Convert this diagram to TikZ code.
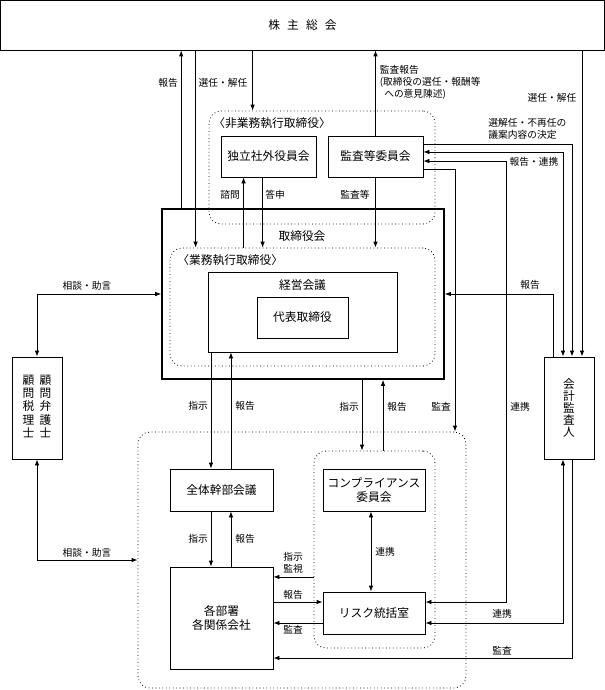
\documentclass[tikz,border=0pt]{standalone}
\usepackage{fontspec}
\setmainfont{Noto Sans CJK JP}
\usetikzlibrary{arrows.meta}

\begin{document}
\begin{tikzpicture}[x=0.75pt, y=-0.75pt, line width=0.6pt,
        >={Latex[length=4.5pt,width=3.4pt]},
        box/.style={draw, inner sep=0pt, align=center, font=\fontsize{8.8}{10.5}\selectfont},
        tate/.style={box, font=\fontsize{8.8}{9.1}\selectfont},
        grp/.style={draw, dotted, rounded corners=9pt, inner sep=0pt},
        title/.style={inner sep=0pt, font=\fontsize{8.8}{10.5}\selectfont},
        lbl/.style={inner sep=0pt, align=center, font=\fontsize{7.3}{9.2}\selectfont}]
        \useasboundingbox (0,0) rectangle (605,690);
        % Shareholders
        \node[box, minimum width=453pt, minimum height=37.1pt] (soukai) at (302.5,25.25) {株\hspace{0.6em}主\hspace{0.6em}総\hspace{0.6em}会};
        % Non-executive directors
        \node[grp, minimum width=169.5pt, minimum height=84.75pt] (hibox) at (322,167.5) {};
        \node[title, anchor=west] (hititle) at (213,123) {〈非業務執行取締役〉};
        \node[box, minimum width=71.25pt, minimum height=30.75pt] (dokuritsu) at (268.5,156.5) {独立社外役員会};
        \node[box, minimum width=71.25pt, minimum height=30.75pt] (kansa) at (375.5,156.5) {監査等委員会};
        % Board and executive directors
        \node[draw, line width=1.2pt, minimum width=211.5pt, minimum height=127.5pt] (board) at (303,294) {};
        \node[title] (boardtitle) at (302,236) {取締役会};
        \node[grp, minimum width=198.75pt, minimum height=88.5pt] (gyomu) at (302.5,307) {};
        \node[title, anchor=west] (gyomutitle) at (177,260) {〈業務執行取締役〉};
        \node[box, minimum width=141.75pt, minimum height=60pt] (keiei) at (302.5,312) {};
        \node[title] (keieititle) at (302.5,285) {経営会議};
        \node[box, minimum width=68.25pt, minimum height=30.75pt] (daihyo) at (302.5,317.5) {代表取締役};
        % Advisers and auditor
        \node[tate, minimum width=37.5pt, minimum height=76.5pt] (komon) at (37,408)
            {\begin{tabular}{@{}c@{\hspace{4pt}}c@{}}顧&顧\\問&問\\税&弁\\理&護\\士&士\end{tabular}};
        \node[tate, minimum width=37.5pt, minimum height=76.5pt] (audit) at (569,408) {会\\計\\監\\査\\人};
        % Lower group
        \node[grp, minimum width=246pt, minimum height=192pt] (group) at (302,560) {};
        \node[grp, minimum width=90.75pt, minimum height=147.75pt] (comp) at (374.5,549.5) {};
        \node[box, minimum width=77.25pt, minimum height=31.5pt] (zentai) at (221.5,490) {全体幹部会議};
        \node[box, minimum width=77.25pt, minimum height=76.5pt] (kakubu) at (221.5,618) {各部署\\各関係会社};
        \node[box, minimum width=76.5pt, minimum height=31.5pt] (compliance) at (374,490) {コンプライアンス\\委員会};
        \node[box, minimum width=76.5pt, minimum height=31.5pt] (risk) at (374,613) {リスク統括室};
        % Edges to the shareholders
        \draw[->] ([xshift=15pt]board.north west) -- ([xshift=15pt]board.north west |- soukai.south);
        \draw[->] ([xshift=19.5pt]gyomu.north west |- soukai.south) -- ([xshift=19.5pt]gyomu.north west);
        \draw[->] ([xshift=33pt]hibox.north west |- soukai.south) -- ([xshift=33pt]hibox.north west);
        \draw[->] (kansa.north) -- (kansa.north |- soukai.south);
        \draw[->] ([xshift=9.75pt]audit.north |- soukai.south) -- ([xshift=9.75pt]audit.north);
        % Edges of the non-executive directors
        \draw[->] (kansa.south) -- (kansa.south |- gyomu.north);
        \draw[->] ([xshift=17.25pt]dokuritsu.south west |- gyomu.north) -- ([xshift=17.25pt]dokuritsu.south west);
        \draw[->] ([xshift=31.5pt]dokuritsu.south west) -- ([xshift=31.5pt]dokuritsu.south west |- gyomu.north);
        \draw[->] ([yshift=9.4pt]kansa.east) -| ([xshift=2.25pt]audit.north);
        \draw[<->] ([yshift=3.4pt]kansa.east) -| ([xshift=-4.5pt]audit.north);
        \draw[<->] ([yshift=-3.4pt]kansa.east) -| ([xshift=60.75pt,yshift=8.25pt]risk.east) -- ([yshift=8.25pt]risk.east);
        \draw[->] ([yshift=-9.4pt]kansa.east) -| ([xshift=114.75pt]group.north);
        % Edges of the board
        \draw[->] ([xshift=-12pt]audit.north) |- (board.east);
        \draw[<->] (komon.north) |- (board.west);
        \draw[<->] (komon.south) |- (group.west);
        \draw[->] ([xshift=-7.9pt]zentai.north |- keiei.south) -- ([xshift=-7.9pt]zentai.north);
        \draw[->] ([xshift=7.1pt]zentai.north) -- ([xshift=7.1pt]zentai.north |- keiei.south);
        \draw[->] ([xshift=-9.4pt]comp.north |- board.south) -- ([xshift=-9.4pt]comp.north);
        \draw[->] ([xshift=6.4pt]comp.north) -- ([xshift=6.4pt]comp.north |- board.south);
        % Edges in the lower group
        \draw[->] ([xshift=-7.9pt]zentai.south) -- ([xshift=-7.9pt]kakubu.north);
        \draw[->] ([xshift=7.1pt]kakubu.north) -- ([xshift=7.1pt]zentai.south);
        \draw[<->] ([xshift=-2.25pt]compliance.south) -- ([xshift=-2.25pt]risk.north);
        \draw[->] ([yshift=-20.6pt]comp.west) -- ([yshift=-20.6pt]comp.west -| kakubu.east);
        \draw[->] ([yshift=8.25pt]risk.west -| kakubu.east) -- ([yshift=8.25pt]risk.west);
        \draw[->] ([yshift=-7.5pt]risk.west) -- ([yshift=-7.5pt]risk.west -| kakubu.east);
        \draw[<->] ([xshift=-4.5pt]audit.south) |- ([yshift=-7.5pt]risk.east);
        \draw[->] ([xshift=2.25pt]audit.south) |- ([yshift=-30pt]kakubu.east);
        % Edge labels
        \node[lbl] (t1) at (168,83) {報告};
        \node[lbl] (t2) at (223,83) {選任・解任};
        \node[lbl, anchor=west, align=left] (t3) at (379.5,82.5) {監査報告\\(取締役の選任・報酬等\\\hspace*{0.45em}への意見陳述)};
        \node[lbl] (t4) at (552,98) {選任・解任};
        \node[lbl, anchor=west, align=left] (t5) at (488,129) {選解任・不再任の\\議案内容の決定};
        \node[lbl] (t6) at (534,162) {報告・連携};
        \node[lbl] (t7) at (230,195) {諮問};
        \node[lbl] (t8) at (275,195) {答申};
        \node[lbl] (t9) at (355,195) {監査等};
        \node[lbl] (t10) at (87,286) {相談・助言};
        \node[lbl] (t11) at (530,285) {報告};
        \node[lbl] (t12) at (198,406) {指示};
        \node[lbl] (t13) at (245,406) {報告};
        \node[lbl] (t14) at (349,407) {指示};
        \node[lbl] (t15) at (397,407) {報告};
        \node[lbl] (t16) at (441,407) {監査};
        \node[lbl] (t17) at (520,407) {連携};
        \node[lbl] (t18) at (198,539) {指示};
        \node[lbl] (t19) at (245,539) {報告};
        \node[lbl] (t20) at (385,552) {連携};
        \node[lbl] (t21) at (87,553) {相談・助言};
        \node[lbl] (t22) at (293,563) {指示\\監視};
        \node[lbl] (t23) at (293,595) {報告};
        \node[lbl] (t24) at (293,630) {監査};
        \node[lbl] (t25) at (502,614) {連携};
        \node[lbl] (t26) at (502,651) {監査};
\end{tikzpicture}
\end{document}
